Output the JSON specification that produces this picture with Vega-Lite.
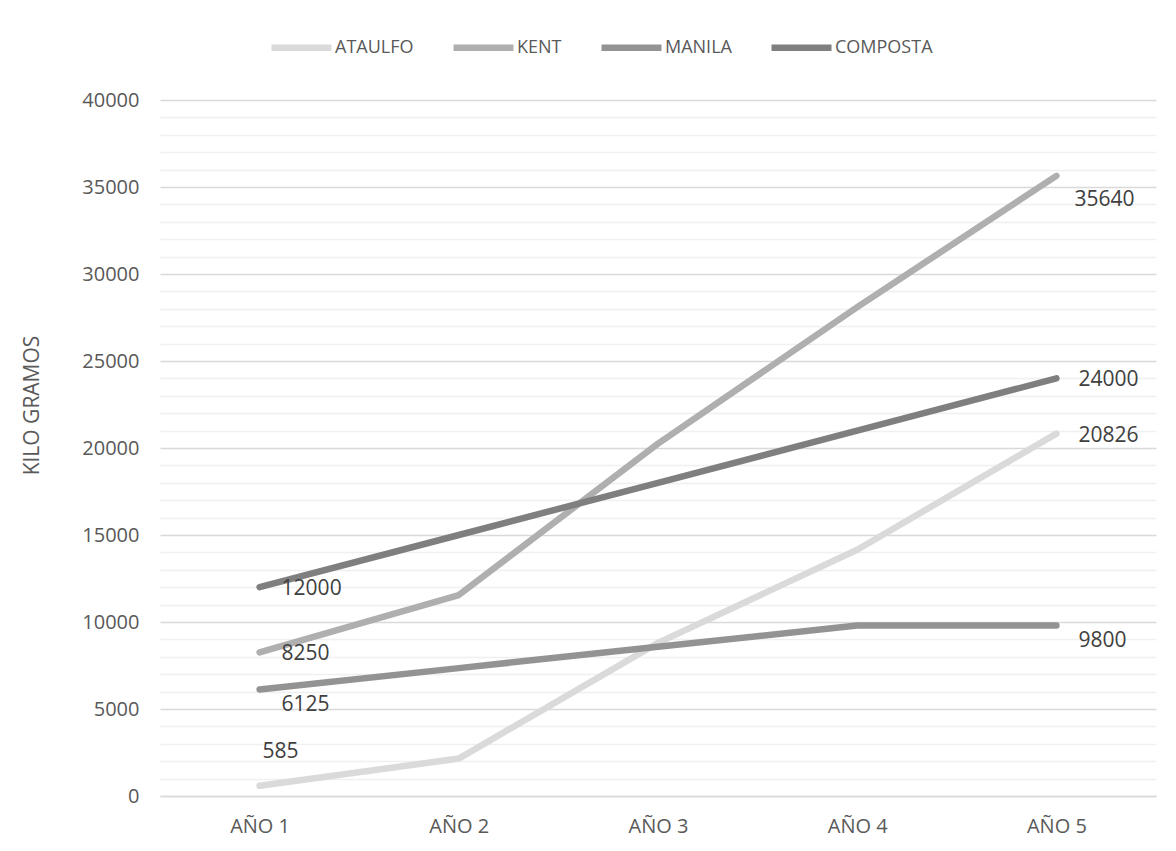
{
  "$schema": "https://vega.github.io/schema/vega-lite/v6.json",
  "width": 996,
  "height": 696,
  "autosize": {"type": "none"},
  "padding": {"left": 160, "top": 100, "right": 20, "bottom": 55},
  "background": "white",
  "config": {
    "font": "Open Sans",
    "view": {"stroke": null},
    "axis": {"labelFont": "Open Sans", "titleFont": "Open Sans", "labelColor": "#595959", "titleColor": "#595959"},
    "legend": {"labelFont": "Open Sans", "labelColor": "#595959"}
  },
  "data": {
    "values": [
      {"serie": "ATAULFO", "anio": "AÑO 1", "kg": 585},
      {"serie": "ATAULFO", "anio": "AÑO 2", "kg": 2150},
      {"serie": "ATAULFO", "anio": "AÑO 3", "kg": 8800},
      {"serie": "ATAULFO", "anio": "AÑO 4", "kg": 14150},
      {"serie": "ATAULFO", "anio": "AÑO 5", "kg": 20826},
      {"serie": "KENT", "anio": "AÑO 1", "kg": 8250},
      {"serie": "KENT", "anio": "AÑO 2", "kg": 11550},
      {"serie": "KENT", "anio": "AÑO 3", "kg": 20250},
      {"serie": "KENT", "anio": "AÑO 4", "kg": 28100},
      {"serie": "KENT", "anio": "AÑO 5", "kg": 35640},
      {"serie": "MANILA", "anio": "AÑO 1", "kg": 6125},
      {"serie": "MANILA", "anio": "AÑO 2", "kg": 7350},
      {"serie": "MANILA", "anio": "AÑO 3", "kg": 8575},
      {"serie": "MANILA", "anio": "AÑO 4", "kg": 9800},
      {"serie": "MANILA", "anio": "AÑO 5", "kg": 9800},
      {"serie": "COMPOSTA", "anio": "AÑO 1", "kg": 12000},
      {"serie": "COMPOSTA", "anio": "AÑO 2", "kg": 15000},
      {"serie": "COMPOSTA", "anio": "AÑO 3", "kg": 18000},
      {"serie": "COMPOSTA", "anio": "AÑO 4", "kg": 21000},
      {"serie": "COMPOSTA", "anio": "AÑO 5", "kg": 24000}
    ]
  },
  "encoding": {
    "x": {
      "field": "anio", "type": "ordinal",
      "scale": {"type": "point", "padding": 0.5},
      "axis": {"title": null, "labelAngle": 0, "ticks": false, "domainColor": "#d9d9d9", "domainWidth": 1.5, "labelFontSize": 20, "labelPadding": 20, "grid": false}
    },
    "y": {
      "field": "kg", "type": "quantitative",
      "scale": {"domain": [0, 40000], "nice": false},
      "axis": {
        "title": "KILO GRAMOS", "titleFontSize": 21, "titleFontWeight": "normal", "titleX": -118, "titleY": 305,
        "values": [0,1000,2000,3000,4000,5000,6000,7000,8000,9000,10000,11000,12000,13000,14000,15000,16000,17000,18000,19000,20000,21000,22000,23000,24000,25000,26000,27000,28000,29000,30000,31000,32000,33000,34000,35000,36000,37000,38000,39000,40000],
        "format": "d",
        "labelExpr": "datum.value % 5000 === 0 ? datum.label : ''",
        "labelFontSize": 20, "labelPadding": 21, "ticks": false, "domain": false,
        "grid": true,
        "gridColor": {"condition": {"test": "datum.value % 5000 === 0", "value": "#d9d9d9"}, "value": "#f0f0f0"},
        "gridWidth": 1.5
      }
    }
  },
  "layer": [
    {
      "mark": {"type": "line", "strokeWidth": 6.5, "strokeCap": "round", "strokeJoin": "round"},
      "encoding": {
        "color": {
          "field": "serie", "type": "nominal",
          "scale": {"domain": ["ATAULFO", "KENT", "MANILA", "COMPOSTA"], "range": ["#dadada", "#afafaf", "#939393", "#7f7f7f"]},
          "legend": {
            "title": null, "orient": "none", "direction": "horizontal", "legendX": 108, "legendY": -86,
            "symbolType": "stroke", "symbolSize": 3600, "symbolStrokeWidth": 6.5,
            "labelFontSize": 18, "labelOffset": 0, "columnPadding": 26
          }
        }
      }
    },
    {
      "transform": [{"filter": "(datum.anio == 'AÑO 1' && (datum.serie == 'COMPOSTA' || datum.serie == 'KENT')) || (datum.anio == 'AÑO 5' && (datum.serie == 'COMPOSTA' || datum.serie == 'ATAULFO'))"}],
      "mark": {"type": "text", "align": "left", "baseline": "middle", "dx": 22, "dy": 2, "fontSize": 21, "color": "#404040"},
      "encoding": {"text": {"field": "kg", "type": "quantitative", "format": "d"}}
    },
    {
      "transform": [{"filter": "datum.serie == 'MANILA' && (datum.anio == 'AÑO 1' || datum.anio == 'AÑO 5')"}],
      "mark": {"type": "text", "align": "left", "baseline": "middle", "dx": 22, "dy": 16, "fontSize": 21, "color": "#404040"},
      "encoding": {"text": {"field": "kg", "type": "quantitative", "format": "d"}}
    },
    {
      "transform": [{"filter": "datum.serie == 'KENT' && datum.anio == 'AÑO 5'"}],
      "mark": {"type": "text", "align": "left", "baseline": "middle", "dx": 18, "dy": 24, "fontSize": 21, "color": "#404040"},
      "encoding": {"text": {"field": "kg", "type": "quantitative", "format": "d"}}
    },
    {
      "transform": [{"filter": "datum.serie == 'ATAULFO' && datum.anio == 'AÑO 1'"}],
      "mark": {"type": "text", "align": "left", "baseline": "middle", "dx": 3, "dy": -34, "fontSize": 21, "color": "#404040"},
      "encoding": {"text": {"field": "kg", "type": "quantitative", "format": "d"}}
    }
  ]
}
